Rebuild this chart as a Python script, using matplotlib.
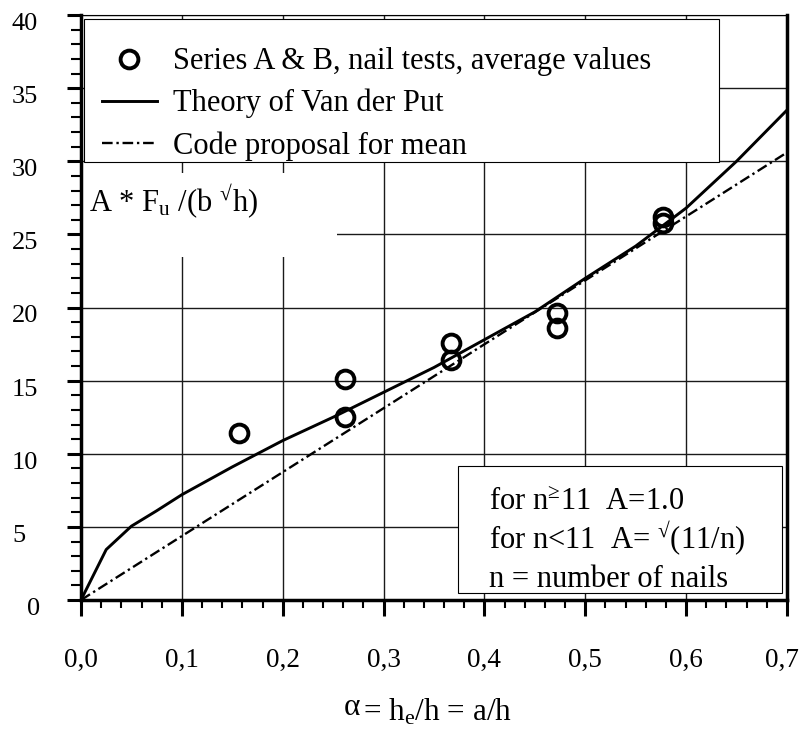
import numpy as np
import matplotlib.pyplot as plt
from matplotlib.ticker import FixedLocator, MultipleLocator, FuncFormatter
from matplotlib.patches import Rectangle
from matplotlib.transforms import ScaledTranslation

plt.rcParams['font.family'] = ['Liberation Serif', 'DejaVu Serif']
plt.rcParams['mathtext.fontset'] = 'custom'
plt.rcParams['mathtext.rm'] = 'Liberation Serif'
plt.rcParams['mathtext.it'] = 'Liberation Serif'
plt.rcParams['mathtext.default'] = 'regular'

# nail tests, series A & B (average values)
alpha_test = [0.157, 0.262, 0.262, 0.367, 0.367, 0.472, 0.472, 0.577, 0.577]
f_test = [11.4, 15.1, 12.5, 17.6, 16.4, 19.6, 18.6, 26.2, 25.8]

# theory of Van der Put
alpha_theory = [0.0, 0.025, 0.05, 0.075, 0.1, 0.15, 0.2, 0.25, 0.3, 0.35,
                0.4, 0.45, 0.5, 0.55, 0.6, 0.65, 0.7]
f_theory = [0.0, 3.45, 5.05, 6.1, 7.2, 9.1, 10.9, 12.5, 14.2, 15.9,
            17.8, 19.7, 22.0, 24.2, 26.8, 30.0, 33.5]

# code proposal for mean (straight line)
alpha_code = [0.0, 0.7]
f_code = [0.0, 30.6]

x_ticks = [0.0, 0.1, 0.2, 0.3, 0.4, 0.5, 0.6, 0.7]
y_ticks = [0, 5, 10, 15, 20, 25, 30, 35, 40]

fig = plt.figure(figsize=(8, 7.33), dpi=100)
ax = fig.add_axes([81/800, 133/733, 706/800, 585/733])

theory, = ax.plot(alpha_theory, f_theory, color='black', lw=2.1, zorder=4,
                  label='Theory of Van der Put')
code, = ax.plot(alpha_code, f_code, color='black', lw=1.7, dashes=(4.5, 1.6, 1, 1.6),
                zorder=4, label='Code proposal for mean')
circ, = ax.plot(alpha_test, f_test, 'o', ms=12.8, mfc='none', mec='black', mew=2.8,
                zorder=5, label='Series A & B, nail tests, average values')

ax.set_xlim(0, 0.7)
ax.set_ylim(0, 40)
ax.xaxis.set_major_locator(FixedLocator(x_ticks))
ax.xaxis.set_minor_locator(MultipleLocator(0.02))
ax.yaxis.set_major_locator(FixedLocator(y_ticks))
ax.yaxis.set_minor_locator(MultipleLocator(1))
ax.xaxis.set_major_formatter(FuncFormatter(lambda v, p: f'{v:.1f}'.replace('.', ',')))
ax.yaxis.set_major_formatter(FuncFormatter(lambda v, p: f'{v:.0f}'))

ax.grid(True, which='major', color='#1a1a1a', lw=1.0)
ax.set_axisbelow(True)

for side in ['left', 'bottom', 'right']:
    ax.spines[side].set_linewidth(2.5)
ax.spines['top'].set_linewidth(0.8)

ax.tick_params(axis='x', which='major', direction='out', length=11.5, width=2.2,
               pad=23, labelsize=19.5)
ax.tick_params(axis='x', which='minor', direction='out', length=5.8, width=1.5)
ax.tick_params(axis='y', which='major', direction='out', length=10, width=2.2,
               pad=39.7, labelsize=19)
ax.tick_params(axis='y', which='minor', direction='out', length=7.2, width=1.5)

# y tick labels: left aligned, a bit lower than the tick; "0" sits further right
yt = ax.yaxis.get_major_ticks(len(y_ticks))
for i, tick in enumerate(yt):
    lab = tick.label1
    lab.set_horizontalalignment('left')
    dx = 15/100 if i == 0 else 0
    lab.set_transform(lab.get_transform() + ScaledTranslation(dx, -6.5/100, fig.dpi_scale_trans))

# last x label pulled in so it stays on the page
xt = ax.xaxis.get_major_ticks(len(x_ticks))
lab = xt[-1].label1
lab.set_transform(lab.get_transform() + ScaledTranslation(-5/100, 0, fig.dpi_scale_trans))

# legend: own frame, entries placed without a frame inside it
ax.add_patch(Rectangle((0.00425, 0.7487), 0.8994, 0.2445, transform=ax.transAxes,
                       fc='white', ec='black', lw=0.8, zorder=5))
leg = ax.legend(handles=[circ, theory, code], loc='upper left',
                bbox_to_anchor=(0.0297, 0.9448), borderaxespad=0, borderpad=0,
                fontsize=22, frameon=False, handlelength=1.8, handletextpad=0.52,
                labelspacing=0.415)
leg.set_zorder(6)

# quantity on the y axis, written inside the plot on a white patch
ax.add_patch(Rectangle((0, 0.5863), 0.3626, 0.1437, transform=ax.transAxes,
                       fc='white', ec='none', zorder=2))
ax.text(0.0113, 0.6638, 'A * F$_{u}$ /(b $^{√}$h)', transform=ax.transAxes,
        fontsize=22, va='baseline', ha='left', zorder=3)

# note box, bottom right
ax.add_patch(Rectangle((0.534, 0.012), 0.459, 0.217, transform=ax.transAxes,
                       fc='white', ec='black', lw=0.8, zorder=6))
notes = ['for n$^{≥}$11  A=1.0', 'for n<11  A= $^{√}$(11/n)', 'n = number of nails']
for txt, yb in zip(notes, [0.1538, 0.0889, 0.0222]):
    ax.text(0.578, yb, txt, transform=ax.transAxes, fontsize=22,
            va='baseline', ha='left', zorder=7)

# axis title: raised alpha, then the rest
ax.set_xlabel('= h$_{e}$/h = a/h', fontsize=22.5, ha='left')
ax.xaxis.set_label_coords(0.399, -0.2068)
ax.xaxis.label.set_verticalalignment('baseline')
ax.text(0.372, -0.1966, 'α', transform=ax.transAxes, fontsize=22.5,
        va='baseline', ha='left')

fig.savefig('out.png', dpi=100)
